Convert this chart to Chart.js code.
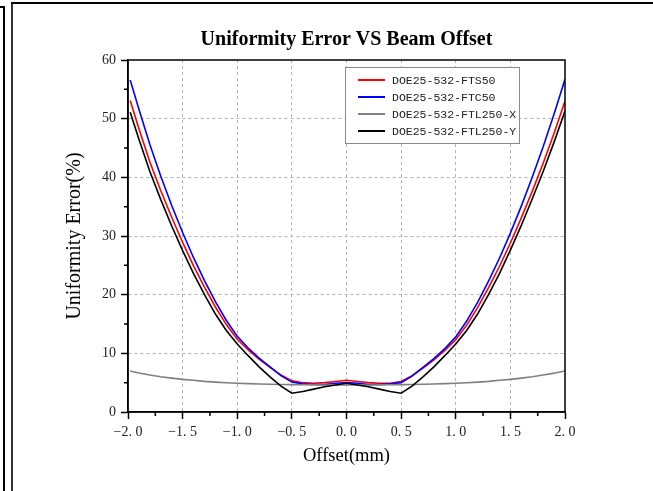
<!DOCTYPE html>
<html><head><meta charset="utf-8">
<script src="https://cdn.jsdelivr.net/npm/chart.js@4/dist/chart.umd.min.js"></script>
<style>
html,body{margin:0;padding:0;background:#fff;}
#wrap{position:relative;width:653px;height:491px;overflow:hidden;background:#fff;}
canvas{position:absolute;left:0;top:0;}
.ln{position:absolute;background:#000;}
</style></head><body>
<div id="wrap">
<div class="ln" style="left:0;top:6px;width:5px;height:2px"></div>
<div class="ln" style="left:3px;top:6px;width:2px;height:485px"></div>
<div class="ln" style="left:11px;top:2px;width:2px;height:489px;background:#333"></div>
<div class="ln" style="left:11px;top:2px;width:642px;height:2px"></div>
<canvas id="c" width="653" height="491"></canvas>
</div>
<script>
const offsets = [-1.98,-1.9,-1.8,-1.7,-1.6,-1.5,-1.4,-1.3,-1.2,-1.1,-1.0,-0.9,-0.8,-0.7,-0.6,-0.5,-0.4,-0.3,-0.2,-0.1,0.0,0.1,0.2,0.3,0.4,0.5,0.6,0.7,0.8,0.9,1.0,1.1,1.2,1.3,1.4,1.5,1.6,1.7,1.8,1.9,2.0];
const fts50 = [53.1,48.3,42.6,37.7,33.2,28.9,24.9,21.3,17.9,14.9,12.4,10.6,9.0,7.6,6.3,5.3,5.0,4.9,5.0,5.2,5.4,5.2,5.0,4.9,4.9,5.2,6.2,7.5,8.9,10.5,12.3,14.8,17.8,21.2,24.8,28.8,33.1,37.6,42.4,47.5,53.0];
const ftc50 = [56.6,51.6,45.6,40.2,35.2,30.6,26.3,22.4,18.8,15.6,12.9,10.9,9.2,7.7,6.2,5.1,4.8,4.7,4.7,4.9,5.0,4.9,4.7,4.7,4.8,5.0,6.1,7.6,9.1,10.8,12.8,15.5,18.7,22.3,26.2,30.5,35.1,40.0,45.2,50.8,56.7];
const ftl250x = [7.0,6.65,6.3,6.01,5.77,5.56,5.4,5.22,5.1,4.99,4.9,4.83,4.77,4.72,4.69,4.66,4.64,4.62,4.61,4.6,4.6,4.6,4.61,4.62,4.64,4.66,4.69,4.72,4.77,4.83,4.9,4.99,5.1,5.22,5.4,5.56,5.77,6.01,6.3,6.62,7.0];
const ftl250y = [51.1,46.5,41.0,36.2,31.7,27.5,23.6,20.0,16.7,13.9,11.6,9.6,7.7,6.0,4.4,3.2,3.5,3.9,4.3,4.6,4.9,4.6,4.3,3.9,3.5,3.2,4.4,6.0,7.7,9.6,11.6,13.9,16.7,20.0,23.6,27.6,31.8,36.3,41.0,46.0,51.3];
const seriesNames = ['DOE25-532-FTS50','DOE25-532-FTC50','DOE25-532-FTL250-X','DOE25-532-FTL250-Y'];
const seriesColors = ['#ff0000','#0000ff','#808080','#000000'];
const xTickLabels = ['\u22122. 0','\u22121. 5','\u22121. 0','\u22120. 5','0. 0','0. 5','1. 0','1. 5','2. 0'];
const yTickLabels = ['0','10','20','30','40','50','60'];
const chartTitle = 'Uniformity Error VS Beam Offset';
const xTitle = 'Offset(mm)';
const yTitle = 'Uniformity Error(%)';

const seriesValues = [fts50, ftc50, ftl250x, ftl250y];
const drawOrder = [3, 2, 1, 0];
const datasets = seriesValues.map((vals, i) => ({
  label: seriesNames[i],
  data: offsets.map((x, j) => ({x: x, y: vals[j]})),
  borderColor: seriesColors[i],
  backgroundColor: seriesColors[i],
  borderWidth: 1.6,
  pointRadius: 0,
  tension: 0,
  fill: false,
  order: drawOrder[i]
}));

const isMajorX = v => Math.abs(v * 2 - Math.round(v * 2)) < 1e-6;
const isMajorY = v => Math.abs(v / 10 - Math.round(v / 10)) < 1e-6;

const framePlugin = {
  id: 'frame',
  afterDraw(chart) {
    const {ctx, chartArea: a, scales} = chart;
    ctx.save();
    ctx.strokeStyle = '#000';
    ctx.lineWidth = 1.5;
    ctx.beginPath();
    for (let v = -1.75; v < 2; v += 0.5) {
      const px = scales.x.getPixelForValue(v);
      ctx.moveTo(px, a.bottom); ctx.lineTo(px, a.bottom + 4);
    }
    for (let v = 5; v < 60; v += 10) {
      const py = scales.y.getPixelForValue(v);
      ctx.moveTo(a.left, py); ctx.lineTo(a.left - 4, py);
    }
    ctx.stroke();
    ctx.lineWidth = 1.5;
    ctx.strokeRect(a.left, a.top, a.right - a.left, a.bottom - a.top);
    const lx = 345.5, ly = 67.5, lw = 174, lh = 76;
    ctx.fillStyle = '#fff';
    ctx.fillRect(lx, ly, lw, lh);
    ctx.strokeStyle = '#8a8a8a';
    ctx.lineWidth = 1;
    ctx.strokeRect(lx, ly, lw, lh);
    ctx.font = '11.5px "Liberation Mono"';
    ctx.textBaseline = 'middle';
    ctx.textAlign = 'left';
    chart.data.datasets.forEach((ds, i) => {
      const y = 80 + i * 17;
      ctx.strokeStyle = ds.borderColor;
      ctx.lineWidth = 2;
      ctx.beginPath(); ctx.moveTo(358, y); ctx.lineTo(385, y); ctx.stroke();
      ctx.fillStyle = '#222';
      ctx.fillText(ds.label, 392, y + 1);
    });
    ctx.restore();
  }
};

new Chart(document.getElementById('c'), {
  type: 'line',
  data: { datasets },
  options: {
    responsive: false,
    animation: false,
    layout: { padding: { left: 0, top: 10, right: 88, bottom: 0 } },
    plugins: {
      legend: { display: false },
      tooltip: { enabled: false },
      title: {
        display: true, text: chartTitle, fullSize: false,
        color: '#000', font: { family: 'Liberation Serif', size: 20, weight: 'bold' },
        padding: { top: 18, bottom: 8 }
      }
    },
    scales: {
      x: {
        type: 'linear', min: -2, max: 2,
        afterFit: s => { s.height = 79; },
        ticks: {
          stepSize: 0.25, autoSkip: false, maxRotation: 0, padding: 5,
          color: '#222', font: { family: 'Liberation Serif', size: 14 },
          callback: v => isMajorX(v) ? xTickLabels[Math.round((v + 2) * 2)] : ''
        },
        grid: {
          color: c => (c.tick && isMajorX(c.tick.value) && Math.abs(c.tick.value) < 1.99) ? '#b4b4b4' : 'rgba(0,0,0,0)',
          lineWidth: 1,
          tickColor: c => (c.tick && isMajorX(c.tick.value)) ? '#000' : 'rgba(0,0,0,0)',
          tickLength: 7, tickWidth: 1.5
        },
        border: { display: true, color: '#000', width: 1.5, dash: [3, 3] },
        title: { display: true, text: xTitle, color: '#000', font: { family: 'Liberation Serif', size: 18.5 }, padding: { top: 0, bottom: 24 } }
      },
      y: {
        type: 'linear', min: 0, max: 60,
        afterFit: s => { s.width = 128; },
        ticks: {
          stepSize: 5, autoSkip: false, padding: 5,
          color: '#222', font: { family: 'Liberation Serif', size: 14 },
          callback: v => isMajorY(v) ? yTickLabels[Math.round(v / 10)] : ''
        },
        grid: {
          color: c => (c.tick && isMajorY(c.tick.value) && c.tick.value > 0 && c.tick.value < 60) ? '#b4b4b4' : 'rgba(0,0,0,0)',
          lineWidth: 1,
          tickColor: c => (c.tick && isMajorY(c.tick.value)) ? '#000' : 'rgba(0,0,0,0)',
          tickLength: 7, tickWidth: 1.5
        },
        border: { display: true, color: '#000', width: 1.5, dash: [3, 3] },
        title: { display: true, text: yTitle, color: '#000', font: { family: 'Liberation Serif', size: 20 }, padding: { top: 63, bottom: 0 } }
      }
    }
  },
  plugins: [framePlugin]
});
</script>
</body></html>
